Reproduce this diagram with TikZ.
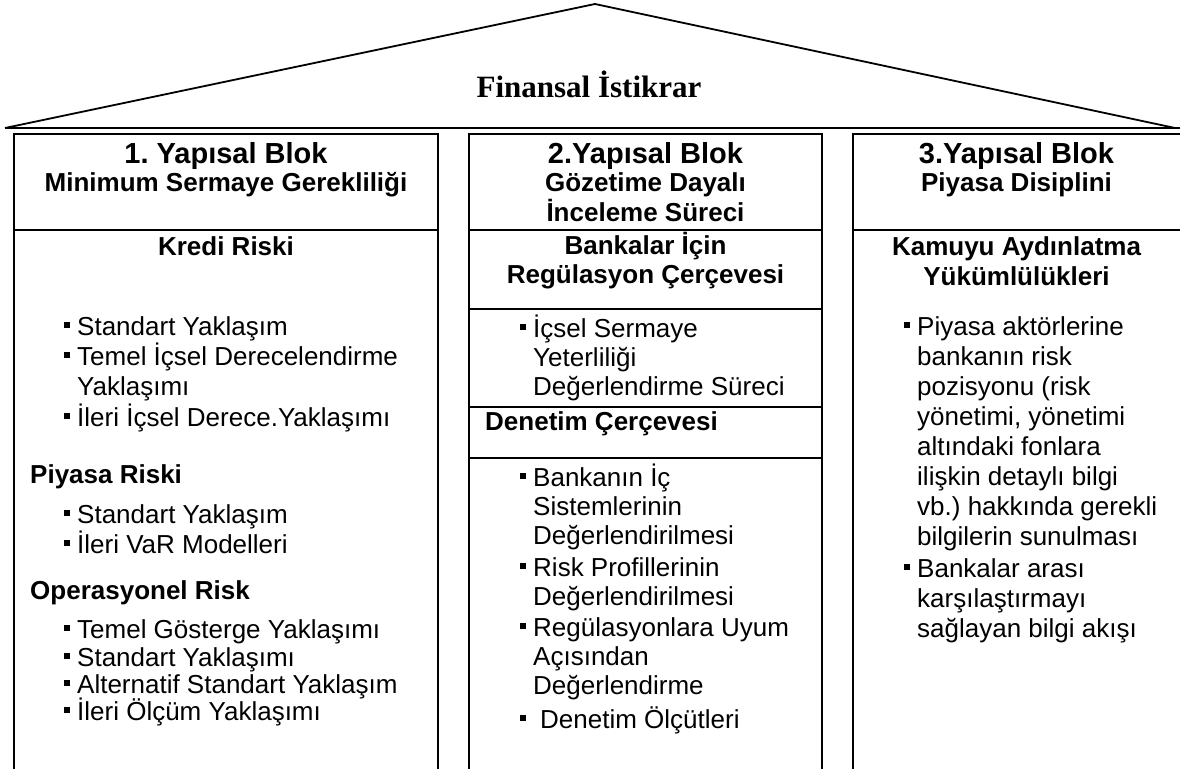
\documentclass[tikz,border=0pt]{standalone}
\usepackage{fontspec}
\setmainfont{Liberation Sans}
\newfontfamily\titleserif{Liberation Serif}
\frenchspacing
% small square bullet hanging to the left of the item text
\newcommand\sqb{\makebox[0pt][r]{\rule[6.7pt]{6.6pt}{6.6pt}\hspace{7pt}}}

\begin{document}
\begin{tikzpicture}[x=1pt,y=-1pt,
  frame/.style={line width=2pt},
  roof/.style={line width=1.8pt, line join=miter},
  txt/.style={inner sep=0pt, font=\fontsize{26}{30}\selectfont, anchor=base west},
  head/.style={inner sep=0pt, font=\bfseries\fontsize{26}{30}\selectfont, anchor=base},
  blockhead/.style={inner sep=0pt, font=\bfseries\fontsize{29}{33}\selectfont, anchor=base},
  sect/.style={inner sep=0pt, font=\bfseries\fontsize{26}{30}\selectfont, anchor=base west},
  roofttl/.style={inner sep=0pt, font=\titleserif\bfseries\fontsize{31}{35}\selectfont, anchor=base},
]
\useasboundingbox (0,0) rectangle (1180,768);
\clip (0,0) rectangle (1180,768);

% roof
\coordinate (eaveL) at (5,128);
\coordinate (apex) at (595,4);
\coordinate (eaveR) at (1175,128);
\coordinate (baseR) at (1182,128);
\draw[roof] (eaveL) -- (apex) -- (eaveR);
\draw[roof] (eaveL) -- (baseR);
\node[roofttl] (title) at (589,97) {Finansal İstikrar};

% three pillars
\draw[frame] (14,134) rectangle (438,790);
\draw[frame] (14,230) -- (438,230);
\draw[frame] (469,134) rectangle (822,790);
\draw[frame] (469,230) -- (822,230);
\draw[frame] (469,309) -- (822,309);
\draw[frame] (469,407) -- (822,407);
\draw[frame] (469,458) -- (822,458);
\draw[frame] (853,134) rectangle (1192,790);
\draw[frame] (853,230) -- (1192,230);

% pillar 1
\node[blockhead] (h1) at (226,163) {1. Yapısal Blok};
\node[head] (h1b) at (226,191) {Minimum Sermaye Gerekliliği};
\node[head] (kr) at (226,255) {Kredi Riski};
\node[txt] (kr1) at (77,335) {\sqb Standart Yaklaşım};
\node[txt] (kr2) at (77,365) {\sqb Temel İçsel Derecelendirme};
\node[txt] (kr2b) at (77,395) {Yaklaşımı};
\node[txt] (kr3) at (77,426) {\sqb İleri İçsel Derece.Yaklaşımı};
\node[sect] (pr) at (30,483) {Piyasa Riski};
\node[txt] (pr1) at (77,523) {\sqb Standart Yaklaşım};
\node[txt] (pr2) at (77,553) {\sqb İleri VaR Modelleri};
\node[sect] (or) at (30,599) {Operasyonel Risk};
\node[txt] (or1) at (77,638) {\sqb Temel Gösterge Yaklaşımı};
\node[txt] (or2) at (77,666) {\sqb Standart Yaklaşımı};
\node[txt] (or3) at (77,693) {\sqb Alternatif Standart Yaklaşım};
\node[txt] (or4) at (77,720) {\sqb İleri Ölçüm Yaklaşımı};

% pillar 2
\node[blockhead] (h2) at (645.5,163) {2.Yapısal Blok};
\node[head] (h2b) at (645.5,191) {Gözetime Dayalı};
\node[head] (h2c) at (645.5,221) {İnceleme Süreci};
\node[head] (rg) at (645.5,254) {Bankalar İçin};
\node[head] (rgb) at (645.5,283) {Regülasyon Çerçevesi};
\node[txt] (rg1) at (533,337) {\sqb İçsel Sermaye};
\node[txt] (rg1b) at (533,366) {Yeterliliği};
\node[txt] (rg1c) at (533,395) {Değerlendirme Süreci};
\node[sect] (dc) at (485,430) {Denetim Çerçevesi};
\node[txt] (dc1) at (533,486) {\sqb Bankanın İç};
\node[txt] (dc1b) at (533,515) {Sistemlerinin};
\node[txt] (dc1c) at (533,544) {Değerlendirilmesi};
\node[txt] (dc2) at (533,576) {\sqb Risk Profillerinin};
\node[txt] (dc2b) at (533,605) {Değerlendirilmesi};
\node[txt] (dc3) at (533,636) {\sqb Regülasyonlara Uyum};
\node[txt] (dc3b) at (533,665) {Açısından};
\node[txt] (dc3c) at (533,694) {Değerlendirme};
\node[txt] (dc4) at (533,728) {\sqb\hspace{7pt}Denetim Ölçütleri};

% pillar 3
\node[blockhead] (h3) at (1016.5,163) {3.Yapısal Blok};
\node[head] (h3b) at (1016.5,191) {Piyasa Disiplini};
\node[head] (ka) at (1016.5,255) {Kamuyu Aydınlatma};
\node[head] (kab) at (1016.5,285) {Yükümlülükleri};
\node[txt] (ka1) at (917,335) {\sqb Piyasa aktörlerine};
\node[txt] (ka1b) at (917,365) {bankanın risk};
\node[txt] (ka1c) at (917,395) {pozisyonu (risk};
\node[txt] (ka1d) at (917,425) {yönetimi, yönetimi};
\node[txt] (ka1e) at (917,455) {altındaki fonlara};
\node[txt] (ka1f) at (917,485) {ilişkin detaylı bilgi};
\node[txt] (ka1g) at (917,515) {vb.) hakkında gerekli};
\node[txt] (ka1h) at (917,545) {bilgilerin sunulması};
\node[txt] (ka2) at (917,577) {\sqb Bankalar arası};
\node[txt] (ka2b) at (917,607) {karşılaştırmayı};
\node[txt] (ka2c) at (917,637) {sağlayan bilgi akışı};
\end{tikzpicture}
\end{document}
